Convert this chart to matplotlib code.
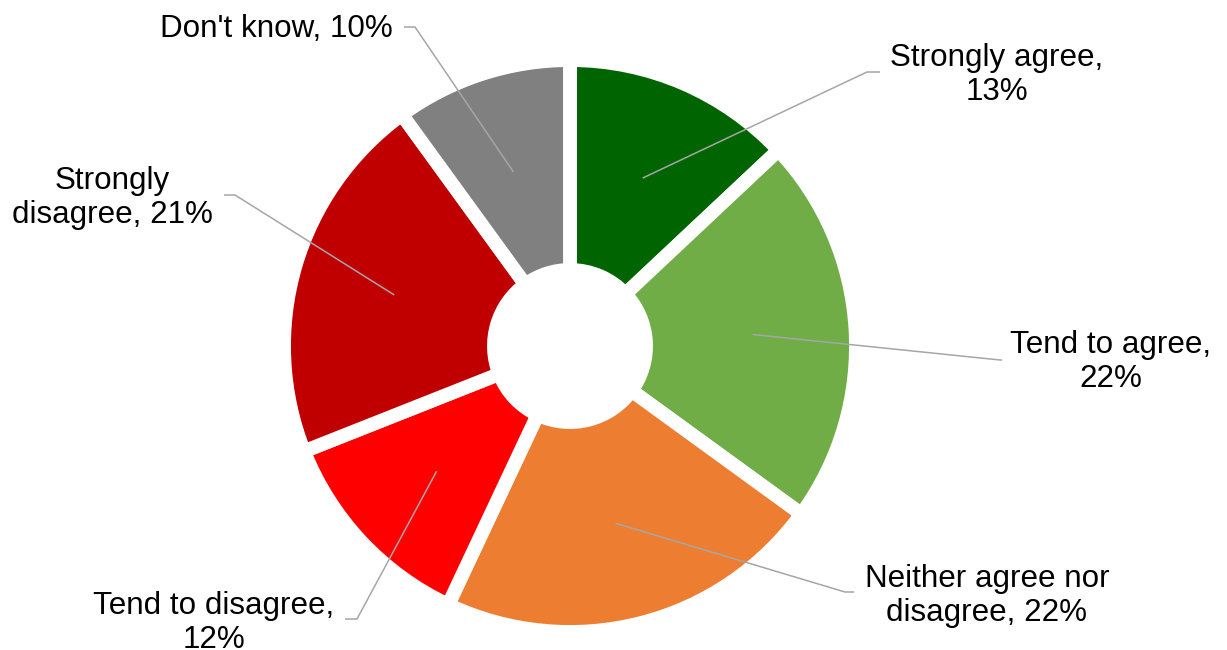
import numpy as np
import matplotlib
matplotlib.use("Agg")
import matplotlib.pyplot as plt

# ---- data ----
categories = ["Strongly agree", "Tend to agree", "Neither agree nor\ndisagree",
              "Tend to disagree", "Strongly\ndisagree", "Don't know"]
values = [13, 22, 22, 12, 21, 10]
label_texts = ["Strongly agree,\n13%", "Tend to agree,\n22%", "Neither agree nor\ndisagree, 22%",
               "Tend to disagree,\n12%", "Strongly\ndisagree, 21%", "Don't know, 10%"]
colors = ["#006400", "#70AD47", "#ED7D31", "#FF0000", "#C00000", "#808080"]

# ---- layout (pixel coordinates, y measured from top) ----
W, H = 1227, 650
cx, cy = 570, 346
R_out, R_w = 286, 210
label_pos = [(997, 75), (1111, 362), (987, 596), (214, 623), (112, 198), (276, 29)]
# elbow point and end point of each leader (pixel coords)
leader_elbow = [(867, 72), (1000, 360), (845, 592), (357, 619), (235, 195), (415, 27)]
leader_end = [(880, 72), (1002, 360), (854, 592), (345, 619), (224, 195), (404, 27)]
leader_r = 183

plt.rcParams['font.family'] = ['Liberation Sans', 'DejaVu Sans']
fig = plt.figure(figsize=(W / 100, H / 100), dpi=100)
ax = fig.add_axes([0, 0, 1, 1])

def P(x, y):
    return x, H - y

wedges, _ = ax.pie(values, colors=colors, startangle=90, counterclock=False,
                   radius=R_out, center=P(cx, cy),
                   wedgeprops=dict(width=R_w, edgecolor='white', linewidth=10))

ax.set_xlim(0, W)
ax.set_ylim(0, H)
ax.set_aspect('equal')
ax.axis('off')

total = sum(values)
cum = 0
for i, v in enumerate(values):
    mid = 90 - (cum + v / 2) / total * 360
    cum += v
    sx = cx + leader_r * np.cos(np.radians(mid))
    sy = cy - leader_r * np.sin(np.radians(mid))
    xs = [sx, leader_elbow[i][0], leader_end[i][0]]
    ys = [H - sy, H - leader_elbow[i][1], H - leader_end[i][1]]
    ax.plot(xs, ys, color='#A6A6A6', lw=1.1, solid_capstyle='butt', zorder=3)
    lx, ly = P(*label_pos[i])
    ax.text(lx, ly, label_texts[i], ha='center', va='center', fontsize=22.6,
            color='black', multialignment='center', linespacing=1.18)

fig.savefig("out.png", dpi=100)
